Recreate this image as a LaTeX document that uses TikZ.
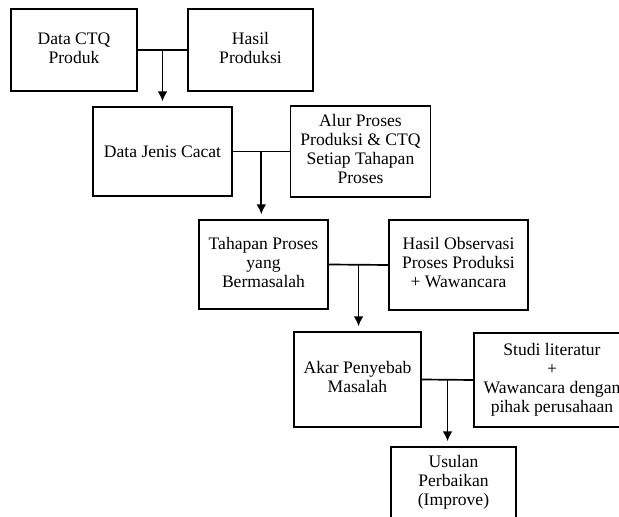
\documentclass[tikz,border=0pt]{standalone}
\usepackage{fontspec}
\setmainfont{Liberation Serif}
\usepackage{tikz}
\usetikzlibrary{arrows.meta}

\begin{document}
\begin{tikzpicture}[x=0.025cm, y=-0.025cm, >={Latex[length=7pt,width=7pt]},
                    line width=1.2pt]
\tikzstyle{kotak}=[rectangle, draw, line width=1.2pt, inner sep=1pt,
                    font=\fontsize{12.5}{13.5}\selectfont]
\tikzstyle{panah}=[->, line width=1.2pt, shorten >=3.5pt]
  \useasboundingbox (0,0) rectangle (619,517);
  \clip (0,0) rectangle (619,517);
  \node[kotak, minimum width=3.15cm,  minimum height=2.05cm]  (ctq)     at (74,50)
                            {\begin{tabular}{c}Data CTQ\\Produk\end{tabular}};
  \node[kotak, minimum width=3.125cm, minimum height=2.05cm]  (hasil)   at (250.5,50)
                            {\begin{tabular}{c}Hasil\\Produksi\end{tabular}};
  \node[kotak, minimum width=3.475cm, minimum height=2.225cm] (jenis)   at (162.5,151.5)
                            {Data Jenis Cacat};
  \node[kotak, minimum width=3.475cm, minimum height=2.275cm] (alur)    at (360.5,151.5)
                            {\begin{tabular}{c}Alur Proses\\Produksi \& CTQ\\
                            Setiap Tahapan\\Proses\end{tabular}};
  \node[kotak, minimum width=3.175cm, minimum height=2.225cm] (tahapan) at (263.5,264.5)
                            {\begin{tabular}{c}Tahapan Proses\\yang\\Bermasalah\end{tabular}};
  \node[kotak, minimum width=3.475cm, minimum height=2.25cm]  (observasi) at (458.5,265)
                            {\begin{tabular}{c}Hasil Observasi\\Proses Produksi\\
                            + Wawancara\end{tabular}};
  \node[kotak, minimum width=3.175cm, minimum height=2.375cm] (akar)    at (357.5,379.5)
                            {\begin{tabular}{c}Akar Penyebab\\Masalah\end{tabular}};
  \node[kotak, minimum width=3.7cm,   minimum height=2.35cm]  (studi)   at (552,380)
                            {\begin{tabular}{c}Studi literatur\\+\\
                            Wawancara dengan\\pihak perusahaan\end{tabular}};
  \node[kotak, minimum width=3.125cm, minimum height=1.8cm]   (usulan)  at (453.5,483)
                            {\begin{tabular}{c}Usulan\\Perbaikan\\(Improve)\end{tabular}};
  \draw (ctq.east)     -- coordinate (j1) (hasil.west);
  \draw (jenis.east)   -- coordinate (j2) (alur.west);
  \draw (tahapan.east) -- coordinate (j3) (observasi.west);
  \draw (akar.east)    -- coordinate (j4) (studi.west);
  \draw[panah] (j1) -- (j1 |- jenis.north);
  \draw[panah] (j2) -- (j2 |- tahapan.north);
  \draw[panah] (j3) -- (j3 |- akar.north);
  \draw[panah] (j4) -- (j4 |- usulan.north);
\end{tikzpicture}
\end{document}
